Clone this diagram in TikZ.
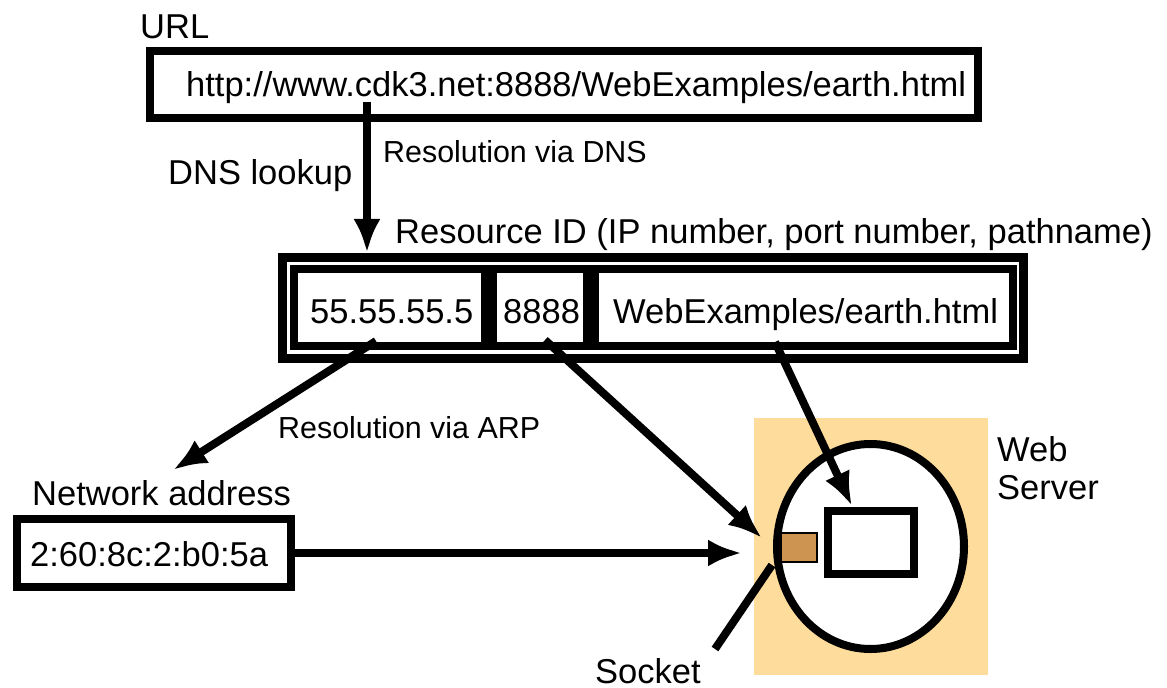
\documentclass[tikz,border=0pt]{standalone}
\usepackage{fontspec}
\setmainfont{Liberation Sans}
\usetikzlibrary{arrows.meta,shapes.geometric}
\definecolor{beige}{RGB}{254,220,155}
\definecolor{sockbrown}{RGB}{205,147,80}
\begin{document}
\begin{tikzpicture}[x=1bp,y=-1bp,
  big/.style={font=\fontsize{34.5bp}{38bp}\selectfont, inner sep=0pt, anchor=base west},
  small/.style={font=\fontsize{30.4bp}{34bp}\selectfont, inner sep=0pt, anchor=base west},
  box/.style={draw, line width=8bp, inner sep=0pt, fill=white},
  arr/.style={line width=8bp, -{Latex[length=34bp,width=27bp]}},
]
\useasboundingbox (0,0) rectangle (1167,688);

% URL
\node[big] (urllabel) at (140,39) {URL};
\node[box, minimum width=828bp, minimum height=67bp] (url) at (564,84.5) {};
\node[big] (urltext) at (186,96.7) {http://www.cdk3.net:8888/WebExamples/earth.html};

% Resource ID
\node[big] (ridlabel) at (395,243) {Resource ID (IP number, port number, pathname)};
\node[draw, line width=9bp, inner sep=0pt, minimum width=741bp, minimum height=101bp] (rid) at (653,308) {};
\node[box, minimum width=191bp, minimum height=77bp] (ip) at (389.5,307.5) {};
\node[box, minimum width=94bp, minimum height=77bp] (port) at (540,307.5) {};
\node[box, minimum width=418bp, minimum height=77bp] (path) at (804,307.5) {};
\node[big] (iptext) at (310,323) {55.55.55.5};
\node[big] (porttext) at (503,323) {8888};
\node[big] (pathtext) at (613,323) {WebExamples/earth.html};

% Network address
\node[big] (netlabel) at (32,505) {Network address};
\node[box, minimum width=274bp, minimum height=68bp] (net) at (154,553) {};
\node[big] (mac) at (30,566.7) {2:60:8c:2:b0:5a};

% Web server
\node[fill=beige, inner sep=0pt, minimum width=234bp, minimum height=257bp] (srv) at (871,546.5) {};
\node[draw, ellipse, line width=8bp, fill=white, inner sep=0pt, minimum width=187bp, minimum height=205bp] (proc) at (870.5,546.5) {};
\node[box, minimum width=86bp, minimum height=63bp] (res) at (871,542.5) {};
\node[draw, line width=2bp, fill=sockbrown, inner sep=0pt, minimum width=36bp, minimum height=29bp] (sock) at (799,547.5) {};
\node[big, anchor=north west, align=left] (wslabel) at (997,436.3) {Web\\Server};
\node[big] (socklabel) at (595,683) {Socket};

% labels
\node[big] (dnslook) at (168,185) {DNS lookup};
\node[small] (dnsres) at (383,163) {Resolution via DNS};
\node[small] (arpres) at (278,438) {Resolution via ARP};

% connector end points
\coordinate (dnsS) at (367,102);
\coordinate (dnsE) at (367,253);
\coordinate (arpS) at (376,341);
\coordinate (arpE) at (173,470);
\coordinate (portS) at (545,340);
\coordinate (portE) at (762,538);
\coordinate (pathS) at (775,342);
\coordinate (pathE) at (852,506);
\coordinate (macE) at (742,553);
\coordinate (sockA) at (772,565);
\coordinate (sockB) at (715,649);

\draw[arr] (dnsS) -- (dnsE);
\draw[arr] (arpS) -- (arpE);
\draw[arr] (portS) -- (portE);
\draw[arr] (pathS) -- (pathE);
\draw[arr] (net.east) -- (macE);
\draw[line width=8bp] (sockA) -- (sockB);
\end{tikzpicture}
\end{document}
